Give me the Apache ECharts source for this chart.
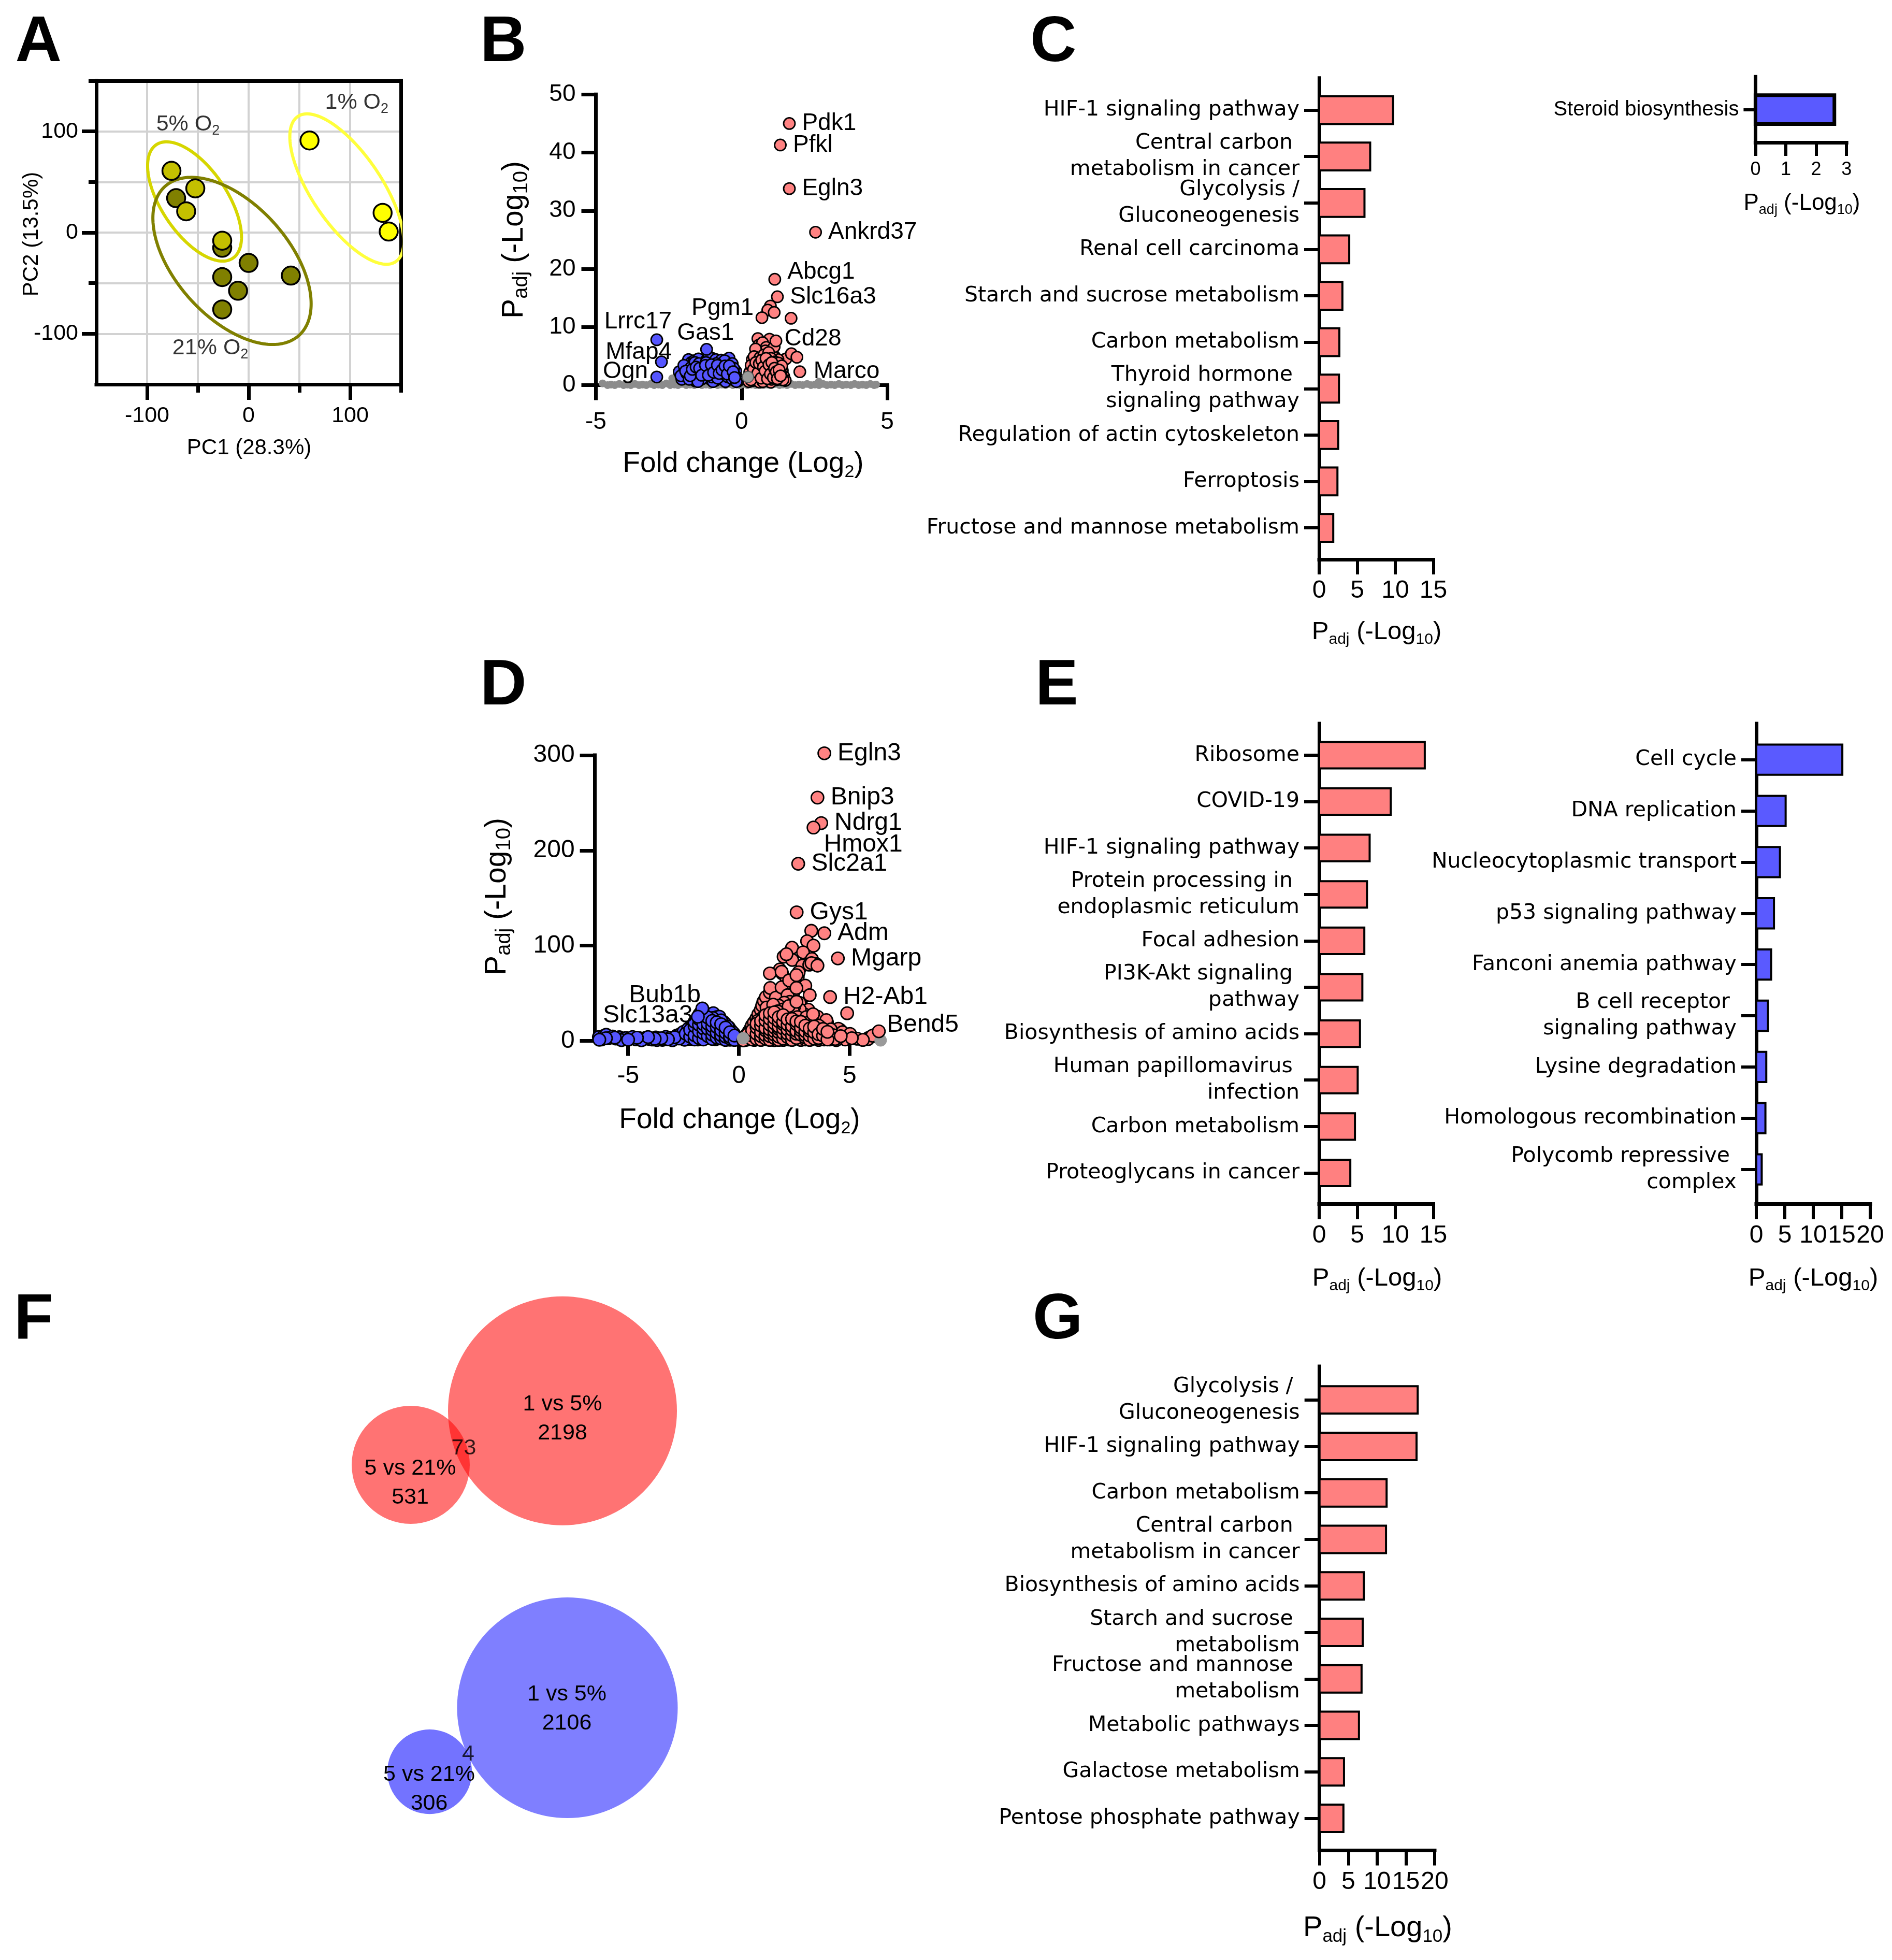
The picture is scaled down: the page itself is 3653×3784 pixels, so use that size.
<!DOCTYPE html>
<html><head><meta charset="utf-8">
<script src="https://cdn.jsdelivr.net/npm/echarts@6/dist/echarts.min.js"></script>
<style>html,body{margin:0;padding:0;background:#fff}#c{width:3653px;height:3784px}</style>
</head><body><div id="c"></div>
<script>
// ================= DATA =================
// Panel A - PCA scores
const pca1X = [60, 132, 138];
const pca1Y = [91, 19.5, 1];
const pca5X = [-76, -52.5, -61.5, -26];
const pca5Y = [61, 43.7, 21, -8];
const pca21X = [-71.4, -26, 0, -26, -10.4, 41.6, -26];
const pca21Y = [34, -15, -30, -44, -57.5, -42.5, -76];
const pcaGroupNames = ['1% O', '5% O', '21% O'];
const pcaGroupLabelPos = [[106.5, 128.6], [-59.7, 107.1], [-37.7, -114.2]];
// group ellipses: centre and conjugate semi-axes (data units)
const ellipse1 = {c: [96.7, 43], u: [56.1, -51.8], v: [0, 53.3]};
const ellipse5 = {c: [-53.25, 30.75], u: [46.25, -35.25], v: [0, 47.25]};
const ellipse21 = {c: [-16.35, -28], u: [77.95, -42.4], v: [0, 70.9]};

// Panel B - volcano 1% vs 5%
const bUpGenes = ['Pdk1', 'Pfkl', 'Egln3', 'Ankrd37', 'Abcg1', 'Slc16a3', 'Pgm1', 'Cd28', 'Marco'];
const bUpX = [1.64, 1.33, 1.64, 2.54, 1.14, 1.23, 0.70, 1.18, 2.0];
const bUpY = [45, 41.3, 33.8, 26.3, 18.2, 15.2, 11.6, 7.6, 2.3];
const bDownGenes = ['Lrrc17', 'Mfap4', 'Ogn', 'Gas1'];
const bDownX = [-2.91, -2.75, -2.91, -1.2];
const bDownY = [7.8, 4.0, 1.4, 6.15];
const bRed = [[0.99,13.6],[0.90,12.9],[1.12,12.5],[1.70,11.5],[0.56,8.0],[0.96,7.9],[0.60,6.9],[0.72,7.3],[0.85,6.5],[1.52,4.5],[1.71,5.4],[1.90,4.8],
 [0.3,1.5],[0.35,2.6],[0.37,4.4],[0.4,0.8],[0.42,3.5],[0.45,1.9],[0.5,5.2],[0.52,2.8],[0.55,1.1],[0.58,4.1],[0.62,2.2],[0.65,3.3],[0.68,5.6],[0.7,1.5],
 [0.74,4.6],[0.76,2.6],[0.78,0.8],[0.8,3.8],[0.82,5.9],[0.86,1.9],[0.88,3.0],[0.9,4.9],[0.92,2.3],[0.95,1.1],[0.98,3.9],[1.0,5.4],[1.02,2.7],[1.05,1.6],
 [1.08,4.3],[1.1,3.2],[1.12,5.0],[1.15,2.0],[1.18,0.9],[1.2,3.7],[1.22,2.6],[1.25,4.4],[1.28,1.6],[1.3,3.0],[1.33,2.2],[1.36,1.2],[1.4,2.5],[1.45,1.5],
 [1.5,0.8],[1.05,5.8],[0.48,6.2],[1.12,6.6],[0.25,0.6],[0.62,0.5],[1.0,0.5],[1.35,1.8],[1.3,3.6],
 [0.28,2.2],[0.33,3.4],[0.38,1.2],[0.43,4.9],[0.47,2.4],[0.53,3.6],[0.57,1.7],[0.63,4.7],[0.66,2.8],[0.71,3.9],[0.73,0.6],[0.77,5.2],[0.79,1.9],
 [0.83,3.3],[0.87,4.2],[0.91,1.5],[0.93,5.6],[0.97,2.6],[1.01,4.6],[1.03,1.0],[1.07,3.5],[1.11,2.3],[1.14,4.0],[1.17,1.4],[1.21,3.0],[1.24,2.1],
 [1.27,3.8],[1.32,1.0],[1.38,3.3],[1.42,0.9],
 [0.32,0.9],[0.41,2.7],[0.49,3.9],[0.56,2.1],[0.61,3.7],[0.67,1.2],[0.69,4.3],[0.75,3.1],[0.81,2.4],[0.84,4.6],[0.89,1.1],[0.94,3.5],[0.99,1.9],
 [1.04,3.9],[1.09,1.3],[1.13,2.9],[1.19,2.3],[1.23,1.1],[1.29,2.6],[1.34,1.6]];
const bBlue = [[-2.14,2.3],[-1.95,1.4],[-1.82,4.4],[-1.85,3.2],[-1.78,2.2],[-1.7,1.2],[-1.65,3.6],[-1.6,2.6],[-1.55,1.6],[-1.5,3.3],[-1.45,0.9],[-1.4,2.2],
 [-1.35,3.9],[-1.3,1.4],[-1.25,2.8],[-1.15,3.6],[-1.1,1.1],[-1.05,2.4],[-1.0,4.6],[-0.98,3.2],[-0.95,1.8],[-0.9,0.8],[-0.85,2.9],[-0.8,4.1],[-0.78,1.5],
 [-0.72,2.3],[-0.68,3.5],[-0.62,1.0],[-0.6,2.7],[-0.55,1.7],[-0.5,3.9],[-0.45,2.2],[-0.43,4.65],[-0.4,1.2],[-0.35,3.0],[-0.3,1.9],[-0.25,0.9],[-0.2,2.4],
 [-0.15,1.3],[-2.0,2.0],[-1.9,2.8],[-1.72,3.9],[-1.62,4.2],[-1.48,4.5],[-1.2,4.3],[-1.12,4.8],[-0.88,4.4],[-0.7,4.3],[-0.58,4.2],[-1.38,1.0],[-1.58,0.7],
 [-0.98,0.6],[-0.55,0.6],[-2.05,1.0],[-1.28,3.2],[-0.32,3.7],[-0.12,0.7],
 [-2.08,1.6],[-1.98,3.4],[-1.88,2.0],[-1.8,1.0],[-1.74,3.0],[-1.67,1.9],[-1.6,3.9],[-1.53,2.4],[-1.46,3.7],[-1.42,1.5],[-1.33,2.6],[-1.27,1.8],
 [-1.22,3.9],[-1.18,2.2],[-1.08,3.0],[-1.02,1.4],[-0.93,2.6],[-0.87,3.7],[-0.82,1.2],[-0.75,2.9],[-0.65,2.0],[-0.62,3.1],[-0.52,2.5],[-0.47,1.4],
 [-0.38,2.6],[-0.33,1.1],[-0.27,2.9],[-0.22,1.6],[-0.18,0.6],[-1.5,0.6],
 [-1.92,2.4],[-1.76,1.6],[-1.69,2.7],[-1.56,3.1],[-1.44,2.9],[-1.37,1.7],[-1.24,3.4],[-1.14,1.7],[-1.04,3.5],[-0.96,2.2],[-0.83,3.4],[-0.77,2.0],
 [-0.67,2.6],[-0.57,3.3],[-0.49,1.9],[-0.42,3.3],[-0.29,2.3],[-0.24,1.3]];
const bGray = [[-4.77,0.3],[-4.6,0],[-4.48,0.1],[-4.35,0],[-4.2,0.2],[-4.05,0],[-3.92,0.1],[-3.8,0],[-3.66,0.2],[-3.52,0],[-3.4,0.1],[-3.27,0],[-3.12,0.2],
 [-3.0,0],[-2.85,0.1],[-2.72,0],[-2.58,0.3],[-2.45,0],[-2.38,1.15],[-2.3,0.1],[-2.18,0],[-2.05,0.2],[-1.9,0],[-1.76,0.1],[-1.62,0],[-1.5,0.2],[-1.36,0],
 [-1.22,0.1],[-1.08,0],[-0.95,0.2],[-0.82,0],[-0.68,0.1],[-0.55,0],[-0.42,0.2],[-0.3,0],[-0.16,0.1],[-0.05,0],[0.08,0.2],[0.2,0],[0.34,0.1],[0.48,0],
 [0.6,0.2],[0.75,0],[0.88,0.1],[1.02,0],[1.15,0.2],[1.3,0],[1.42,0.1],[1.56,0],[1.7,0.2],[1.84,0],[1.97,0.1],[2.1,0],[2.25,0.2],[2.38,0],[2.52,0.1],
 [2.65,0.6],[2.66,0],[2.8,0.2],[2.93,0],[3.07,0.1],[3.2,0],[3.34,0.2],[3.47,0],[3.6,0.1],[3.75,0],[3.88,0.2],[4.02,0],[4.15,0.1],[4.28,0],[4.42,0.2],
 [4.55,0],[4.62,0.1]];
const bGrayMid = [[0.22, 1.4]];

// Panel D - volcano 5% vs 21%
const dUpGenes = ['Egln3', 'Bnip3', 'Ndrg1', 'Hmox1', 'Slc2a1', 'Gys1', 'Adm', 'Mgarp', 'H2-Ab1', 'Bend5'];
const dUpX = [3.86, 3.55, 3.72, 3.37, 2.68, 2.61, 3.86, 4.47, 4.12, 6.32];
const dUpY = [302, 255.5, 228.7, 224, 186, 135, 113, 86.6, 46, 10];
const dDownGenes = ['Bub1b', 'Slc13a3'];
const dDownX = [-1.65, -1.85];
const dDownY = [34, 25.4];
const dBlue = [[-6.32,4.0],[-6.1,5.2],[-5.99,6.4],[-5.85,3.1],[-5.7,4.5],[-5.55,2.4],[-5.4,3.8],[-5.25,1.8],[-5.1,3.0],[-4.95,2.2],[-4.8,4.0],[-4.65,1.6],
 [-4.5,2.9],[-4.35,1.2],[-4.2,3.3],[-4.05,2.0],[-3.9,1.4],[-3.75,3.6],[-3.6,2.5],[-3.45,1.1],[-3.3,4.2],[-3.1,3.3],[-2.95,1.8],[-2.8,5.6],[-2.63,7.3],
 [-6.2,1.5],[-5.3,0.8],[-4.4,0.6],[-3.7,0.9],[-3.0,0.7],
 [-2.5,9.5],[-2.4,3.5],[-2.29,12.7],[-2.2,6.5],[-2.1,16.5],[-2.03,18.1],[-2.0,10.2],[-1.95,4.0],[-1.9,22.0],[-1.8,14.5],[-1.75,7.8],[-1.7,30.5],
 [-1.6,20.3],[-1.55,11.5],[-1.5,27.0],[-1.45,3.2],[-1.42,27.2],[-1.38,16.8],[-1.3,23.5],[-1.25,9.0],[-1.2,28.6],[-1.15,29.0],[-1.1,19.8],[-1.05,13.2],
 [-1.0,25.0],[-0.95,5.8],[-0.9,21.5],[-0.88,25.4],[-0.82,16.0],[-0.75,10.5],[-0.7,20.0],[-0.62,18.1],[-0.58,12.8],[-0.5,6.4],[-0.45,14.2],[-0.35,10.9],
 [-0.3,4.8],[-0.22,7.5],[-0.15,2.5],[-0.08,3.6],[-1.68,16.0],[-1.35,6.5],[-0.65,2.0],[-2.15,2.0],[-1.85,1.5],[-1.05,1.8],[-0.4,1.2],
 [-2.35,6.0],[-2.25,2.0],[-2.15,10.0],[-2.05,13.5],[-1.95,17.0],[-1.9,8.0],[-1.8,19.5],[-1.78,28.0],[-1.72,12.0],[-1.65,24.0],[-1.58,5.5],[-1.52,15.5],
 [-1.48,22.0],[-1.4,10.0],[-1.35,20.5],[-1.28,14.0],[-1.22,4.0],[-1.18,24.0],[-1.12,8.5],[-1.08,17.0],[-0.98,11.0],[-0.92,15.5],[-0.85,7.5],[-0.8,21.5],
 [-0.72,13.5],[-0.68,4.5],[-0.55,9.5],[-0.5,15.0],[-0.42,7.0],[-0.28,9.0],[-0.2,4.0],[-0.12,1.5],[-2.45,1.2],[-2.7,2.5],[-2.9,3.8],[-3.2,1.6],[-3.5,2.8],
 [-3.8,2.2],[-4.1,4.0],[-4.6,3.3],[-5.0,1.2],[-5.6,3.4],[-6.0,2.8],[-6.3,1.2],
 [-2.4,7.5],[-2.2,4.5],[-2.2,11.5],[-2.0,1.5],[-2.0,6.0],[-2.0,15.5],[-2.0,20.0],[-1.8,3.0],[-1.8,10.0],[-1.8,17.0],[-1.8,23.0],[-1.6,1.5],[-1.6,8.0],
 [-1.6,13.0],[-1.6,17.5],[-1.6,28.5],[-1.4,5.0],[-1.4,12.5],[-1.4,18.0],[-1.4,24.5],[-1.2,2.0],[-1.2,6.5],[-1.2,11.5],[-1.2,15.5],[-1.2,21.0],
 [-1.0,3.5],[-1.0,8.5],[-1.0,14.5],[-1.0,19.5],[-0.8,2.5],[-0.8,6.0],[-0.8,11.0],[-0.8,17.5],[-0.6,1.0],[-0.6,4.5],[-0.6,8.5],[-0.6,14.0],
 [-0.4,2.5],[-0.4,4.5],[-0.4,9.0],[-0.2,1.0],[-0.2,5.5]];
const dRed = [[3.27,115.6],[3.08,104.7],[3.37,100],[2.40,97.8],[2.02,88.4],[2.90,93],[2.41,85],[3.30,86],[3.50,80.6],[2.87,79],[3.18,80],[1.95,71],
 [2.66,67],[2.70,72],[2.16,64],[2.3,45],[2.8,39],[1.1,40.6],[3.22,15.6],[4.57,11.6],[5.0,6.3],[5.85,3.1],[6.14,6.25],[3.98,19.4],[3.54,25],
 [2.15,91],[1.85,75],[2.5,62],[3.0,58],[3.2,48],[2.05,57],[2.45,50],[3.28,81.7],[3.55,79],
 [0.25,3.0],[0.35,6.5],[0.45,10.0],[0.55,14.0],[0.59,16.3],[0.68,19.5],[0.79,23.6],[0.88,28.0],[0.99,32.7],[1.05,37.0],[1.13,41.9],[1.22,46.0],
 [1.40,50.8],[1.42,55.5],[1.40,70.8],[1.67,45.4],[1.93,56.2],[1.93,72.6],[2.2,48],[2.27,63.5],[2.6,69],[2.6,55.5],[2.74,39.9],[3.14,32.7],
 [3.55,25.4],[3.95,21.8],[4.21,10.9],[4.49,12.7],[4.68,9.1],[5.02,7.3],[4.89,29],[5.83,1.8],[6.03,5.4],[5.35,2.2],[5.6,1.0],[4.3,4.0],[4.0,6.5],
 [3.8,9.0],[3.7,14.0],[3.4,18.0],[3.3,11.0],[3.0,22.0],[2.9,15.0],[2.95,28.0],[2.75,33.0],[2.5,36.0],[2.3,41.0],[2.05,40.0],[1.8,37.0],[1.6,33.0],
 [1.5,27.0],[1.3,30.0],[1.2,25.0],[1.1,20.0],[0.95,15.0],[0.85,10.0],[0.7,6.0],[0.55,4.0],[0.4,1.5],[0.7,1.0],[1.0,2.5],[1.0,7.0],[1.3,4.5],[1.3,12.0],
 [1.5,8.0],[1.5,17.0],[1.7,2.0],[1.7,12.5],[1.7,22.0],[1.9,6.0],[1.9,16.0],[1.9,27.0],[2.1,3.0],[2.1,10.0],[2.1,20.0],[2.1,30.0],[2.3,6.5],[2.3,14.5],
 [2.3,24.0],[2.5,2.0],[2.5,10.0],[2.5,19.0],[2.5,28.0],[2.7,5.0],[2.7,13.0],[2.7,22.0],[2.9,2.5],[2.9,8.5],[3.1,4.5],[3.1,12.5],[3.1,18.5],[3.3,2.0],
 [3.3,6.5],[3.5,4.0],[3.5,9.5],[3.7,2.0],[3.9,3.5],[4.1,1.5],[4.5,2.5],[4.8,1.5],[5.1,2.8],[1.1,10.5],[0.9,4.0],[1.2,16.5],[1.4,20.5],[1.6,0.8],
 [2.0,1.0],[2.8,1.0],[3.6,1.0],[4.4,0.8],
 [0.3,1.0],[0.45,3.0],[0.6,2.5],[0.65,9.0],[0.75,12.5],[0.8,4.5],[0.9,18.0],[0.95,8.0],[1.0,12.0],[1.05,24.0],[1.1,3.5],[1.15,14.0],[1.2,7.5],
 [1.25,19.0],[1.3,1.5],[1.35,9.5],[1.4,26.0],[1.45,14.5],[1.5,4.5],[1.55,21.0],[1.6,11.0],[1.65,28.5],[1.75,7.0],[1.8,17.5],[1.85,3.5],[1.95,11.5],
 [2.0,23.5],[2.0,33.0],[2.05,6.0],[2.15,15.0],[2.2,26.5],[2.25,1.5],[2.35,9.0],[2.4,19.5],[2.45,31.0],[2.55,5.0],[2.6,14.0],[2.65,25.0],[2.75,9.5],
 [2.8,17.5],[2.85,4.0],[2.95,12.0],[3.0,1.5],[3.05,25.0],[3.15,8.0],[3.2,15.0],[3.25,21.0],[3.35,3.5],[3.4,12.5],[3.45,7.0],[3.6,16.0],[3.65,5.5],
 [3.75,11.0],[3.85,1.5],[3.95,7.5],[4.05,3.0],[4.15,12.0],[4.25,6.0],[4.35,2.0],[4.6,5.0],[0.5,7.5],[0.85,21.0],[1.25,35.0],[1.55,38.0],[1.75,31.0],
 [2.25,36.5],[2.6,41.0],[3.35,28.0],
 [0.2,0.5],[0.4,4.0],[0.4,7.0],[0.6,1.5],[0.6,5.5],[0.6,11.0],[0.8,2.0],[0.8,7.5],[0.8,14.0],[0.8,18.0],[1.0,1.0],[1.0,5.0],[1.0,9.5],[1.0,16.0],
 [1.0,21.0],[1.2,2.5],[1.2,6.0],[1.2,11.0],[1.2,13.5],[1.2,21.5],[1.2,27.0],[1.4,1.0],[1.4,5.0],[1.4,8.5],[1.4,12.0],[1.4,17.0],[1.4,23.0],[1.4,29.0],
 [1.6,3.0],[1.6,6.5],[1.6,10.0],[1.6,14.0],[1.6,18.5],[1.6,24.0],[1.6,30.0],[1.8,1.0],[1.8,4.5],[1.8,9.0],[1.8,12.5],[1.8,15.0],[1.8,20.5],[1.8,25.0],
 [2.0,2.5],[2.0,8.0],[2.0,13.0],[2.0,17.5],[2.0,20.0],[2.0,27.0],[2.2,4.0],[2.2,7.5],[2.2,12.0],[2.2,17.0],[2.2,22.5],[2.4,1.0],[2.4,6.0],[2.4,11.5],
 [2.4,15.5],[2.4,23.0],[2.6,3.0],[2.6,7.5],[2.6,10.5],[2.6,17.5],[2.6,20.5],[2.8,6.5],[2.8,11.0],[2.8,14.0],[2.8,20.0],[3.0,3.5],[3.0,6.0],[3.0,10.0],
 [3.0,16.0],[3.2,1.0],[3.2,5.5],[3.2,10.5],[3.2,13.0],[3.4,2.5],[3.4,9.0],[3.4,15.0],[3.6,3.0],[3.6,7.0],[3.8,5.5],[3.8,12.5],[4.0,1.5],[4.0,9.5]];
const dGray = [[0.19, 2.7], [6.4, 0.5]];

// Panel C - KEGG 1 vs 5%
const cUpTerms = ['HIF-1 signaling pathway', 'Central carbon \nmetabolism in cancer', 'Glycolysis /\nGluconeogenesis', 'Renal cell carcinoma',
  'Starch and sucrose metabolism', 'Carbon metabolism', 'Thyroid hormone \nsignaling pathway', 'Regulation of actin cytoskeleton', 'Ferroptosis',
  'Fructose and mannose metabolism'];
const cUpVals = [9.7, 6.7, 5.95, 3.95, 3.05, 2.65, 2.6, 2.5, 2.4, 1.85];
const cDownTerms = ['Steroid biosynthesis'];
const cDownVals = [2.6];
// Panel E - KEGG 5 vs 21%
const eUpTerms = ['Ribosome', 'COVID-19', 'HIF-1 signaling pathway', 'Protein processing in \nendoplasmic reticulum', 'Focal adhesion',
  'PI3K-Akt signaling \npathway', 'Biosynthesis of amino acids', 'Human papillomavirus \ninfection', 'Carbon metabolism', 'Proteoglycans in cancer'];
const eUpVals = [13.87, 9.4, 6.63, 6.28, 5.93, 5.67, 5.36, 5.06, 4.7, 4.09];
const eDownTerms = ['Cell cycle', 'DNA replication', 'Nucleocytoplasmic transport', 'p53 signaling pathway', 'Fanconi anemia pathway',
  'B cell receptor \nsignaling pathway', 'Lysine degradation', 'Homologous recombination', 'Polycomb repressive \ncomplex'];
const eDownVals = [15.1, 5.15, 4.15, 3.1, 2.6, 2.05, 1.75, 1.6, 0.95];
// Panel G - KEGG shared
const gUpTerms = ['Glycolysis / \nGluconeogenesis', 'HIF-1 signaling pathway', 'Carbon metabolism', 'Central carbon \nmetabolism in cancer',
  'Biosynthesis of amino acids', 'Starch and sucrose \nmetabolism', 'Fructose and mannose \nmetabolism', 'Metabolic pathways',
  'Galactose metabolism', 'Pentose phosphate pathway'];
const gUpVals = [17.05, 16.85, 11.65, 11.55, 7.7, 7.5, 7.3, 6.85, 4.25, 4.15];

// Panel F - Venn counts
const vennNames = ['1 vs 5%', '5 vs 21%'];
const vennUpOnly = [2198, 531];
const vennUpShared = 73;
const vennDownOnly = [2106, 306];
const vennDownShared = 4;

// ================= LAYOUT / STYLE =================
const FAM = 'Liberation Sans';
const WIDE = 'DejaVu Sans';
const K = '#000';
const RED_BAR = '#FF8080', BLUE_BAR = '#5A5AFF';
const RED_PT = '#FF8282', BLUE_PT = '#5555FF';
const PT_BORDER = 2.8;
const vennLayout = {upBig: [1086, 2723.7], upSmall: [793, 2828], upMid: [895.4, 2796],
  downBig: [1095.5, 3297], downSmall: [829.5, 3420.5], downMid: [904, 3387], scale: 9.275};

const grids = [], xAxes = [], yAxes = [], series = [], graphics = [];
const OFF = {show: false};
function addGrid(l, t, w, h) { grids.push({left: l, top: t, width: w, height: h, show: false, containLabel: false, outerBoundsMode: 'none'}); return grids.length - 1; }
function vAxis(gi, min, max, o) {
  return Object.assign({gridIndex: gi, type: 'value', min: min, max: max, axisLine: {show: false, onZero: false}, axisTick: OFF, axisLabel: OFF,
    splitLine: OFF, splitArea: OFF, minorTick: OFF, minorSplitLine: OFF, axisPointer: {show: false}}, o);
}
function addX(o) { xAxes.push(o); return xAxes.length - 1; }
function addY(o) { yAxes.push(o); return yAxes.length - 1; }
function aLine(w) { return {show: true, onZero: false, lineStyle: {color: K, width: w, cap: 'square'}}; }
function aTick(len, w, custom) { const t = {show: true, inside: false, length: len, lineStyle: {color: K, width: w}}; if (custom) t.customValues = custom; return t; }
function aLabel(size, margin, extra) { return Object.assign({show: true, fontSize: size, margin: margin, color: K, fontFamily: FAM}, extra || {}); }
function richSet(F, sub) {
  const s = sub || 0.62;
  return {
    n: {fontSize: F, fontFamily: FAM, fill: K, color: K, lineHeight: Math.round(F * 1.2), verticalAlign: 'middle'},
    s: {fontSize: Math.round(F * s), fontFamily: FAM, fill: K, color: K, lineHeight: Math.round(F * (s + 0.04)), verticalAlign: 'bottom'}
  };
}
function gText(x, y, text, F, opt) {
  opt = opt || {};
  const el = {type: 'text', x: x, y: y, z: 100, rotation: opt.rot || 0,
    style: {text: text, fill: K, font: (opt.bold ? 'bold ' : '') + F + 'px "' + FAM + '"', fontSize: F, fontWeight: opt.bold ? 'bold' : 'normal', fontFamily: FAM,
      align: opt.align || 'center', textAlign: opt.align || 'center', verticalAlign: 'middle', textVerticalAlign: 'middle'}};
  if (opt.rich) el.style.rich = opt.rich;
  graphics.push(el);
}
const PADJ = '{n|P}{s|adj}{n| (-Log}{s|10}{n|)}';

// ---------- Panel A ----------
const gA = addGrid(186, 156, 588, 586);
const xA0 = addX(vAxis(gA, -150, 150, {interval: 50, z: 1, splitLine: {show: true, lineStyle: {color: '#d2d2d2', width: 4}}}));
const xA1 = addX(vAxis(gA, -150, 150, {interval: 50, position: 'bottom', z: 3, axisLine: aLine(7), axisTick: aTick(30, 7, [-100, 0, 100]),
  axisLabel: aLabel(43, 40, {customValues: [-100, 0, 100]})}));
const xA2 = addX(vAxis(gA, -150, 150, {interval: 50, position: 'bottom', z: 3, axisTick: aTick(16, 7, [-50, 50, 150])}));
const xA3 = addX(vAxis(gA, -150, 150, {interval: 50, position: 'top', z: 3, axisLine: aLine(7)}));
const yA0 = addY(vAxis(gA, -150, 150, {interval: 50, z: 1, splitLine: {show: true, lineStyle: {color: '#d2d2d2', width: 4}}}));
const yA1 = addY(vAxis(gA, -150, 150, {interval: 50, position: 'left', z: 3, axisLine: aLine(7), axisTick: aTick(28, 7, [-100, 0, 100]),
  axisLabel: aLabel(43, 35, {customValues: [-100, 0, 100]})}));
const yA2 = addY(vAxis(gA, -150, 150, {interval: 50, position: 'left', z: 3, axisTick: aTick(15, 7, [-50, 50, 150])}));
const yA3 = addY(vAxis(gA, -150, 150, {interval: 50, position: 'right', z: 3, axisLine: aLine(7)}));

function ellipsePoints(e) {
  const pts = [];
  for (let k = 0; k <= 200; k++) {
    const t = 2 * Math.PI * k / 200;
    pts.push([e.c[0] + Math.cos(t) * e.u[0] + Math.sin(t) * e.v[0], e.c[1] + Math.cos(t) * e.u[1] + Math.sin(t) * e.v[1]]);
  }
  return pts;
}
function ellSeries(e, color) {
  return {type: 'line', xAxisIndex: xA0, yAxisIndex: yA0, data: ellipsePoints(e), showSymbol: false, symbol: 'none', smooth: false, clip: false, z: 4,
    lineStyle: {color: color, width: 6}, emphasis: {disabled: true}, silent: true};
}
series.push(ellSeries(ellipse5, '#D6D600'));
series.push(ellSeries(ellipse21, '#808000'));
series.push(ellSeries(ellipse1, '#FFFF3C'));
function zipXY(xs, ys) { return xs.map((x, i) => [x, ys[i]]); }
function scat(xi, yi, data, color, size, bw, z, bc) {
  return {type: 'scatter', xAxisIndex: xi, yAxisIndex: yi, data: data, symbol: 'circle', symbolSize: size, clip: false, z: z || 2,
    itemStyle: {color: color, borderColor: bc || K, borderWidth: bw, opacity: 1}, emphasis: {disabled: true}, label: {show: false}, silent: true};
}
series.push(scat(xA0, yA0, zipXY(pca21X, pca21Y), '#808000', 35, 3.5, 5));
series.push(scat(xA0, yA0, zipXY(pca5X, pca5Y), '#C4C000', 35, 3.5, 5));
series.push(scat(xA0, yA0, zipXY(pca1X, pca1Y), '#FFFF00', 35, 3.5, 5));
series.push({type: 'scatter', xAxisIndex: xA0, yAxisIndex: yA0, symbolSize: 0, z: 6, silent: true, clip: false,
  data: pcaGroupNames.map((n, i) => ({value: pcaGroupLabelPos[i], label: {show: true, position: 'inside', formatter: '{n|' + n + '}{s|2}', rich: richSet(43)}})),
  label: {show: true}});

// ---------- Panel B ----------
const gB = addGrid(1150.5, 182.3, 562.5, 561.2);
const xB = addX(vAxis(gB, -5, 5, {interval: 5, axisLine: aLine(7), axisTick: aTick(29, 7), axisLabel: aLabel(46, 49)}));
const yB = addY(vAxis(gB, 0, 50, {interval: 10, axisLine: aLine(7), axisTick: aTick(28, 7), axisLabel: aLabel(46, 39)}));
const bLabelLayout = {
  Pdk1: {}, Pfkl: {}, Egln3: {}, Ankrd37: {}, Slc16a3: {}, Marco: {dist: 14},
  Abcg1: {off: [0, -14]}, Cd28: {dist: 4, off: [0, -4]},
  Pgm1: {pos: 'inside', align: 'right', off: [-16, -18]},
  Lrrc17: {pos: 'inside', align: 'right', off: [29, -35]},
  Mfap4: {pos: 'inside', align: 'right', off: [20, -18]},
  Ogn: {pos: 'inside', align: 'right', off: [-17, -10]},
  Gas1: {pos: 'inside', align: 'right', off: [53, -31]}
};
function geneItems(genes, xs, ys, layout, F) {
  return genes.map((g, i) => {
    const L = layout[g] || {};
    const label = {show: true, formatter: g, fontSize: F, fontFamily: FAM, color: K, position: L.pos || 'right',
      distance: L.dist != null ? L.dist : 12, verticalAlign: 'middle'};
    if (L.align) label.align = L.align;
    if (L.off) label.offset = L.off;
    return {name: g, value: [xs[i], ys[i]], label: label};
  });
}
series.push(scat(xB, yB, bGray, '#8C8C8C', 15, 0, 2));
series.push(scat(xB, yB, bBlue, BLUE_PT, 22, PT_BORDER, 3));
series.push(scat(xB, yB, bRed, RED_PT, 22, PT_BORDER, 3));
series.push(scat(xB, yB, bGrayMid, '#9A9A9A', 22, 2, 3, '#555'));
series.push(scat(xB, yB, geneItems(bDownGenes, bDownX, bDownY, bLabelLayout, 46), BLUE_PT, 22, PT_BORDER, 4));
series.push(scat(xB, yB, geneItems(bUpGenes, bUpX, bUpY, bLabelLayout, 46), RED_PT, 22, PT_BORDER, 4));

// ---------- Panel D ----------
const gD = addGrid(1148.6, 1458, 555.9, 551.5);
const xD = addX(vAxis(gD, -6.5, 6.5, {axisLine: aLine(7), axisTick: aTick(29, 7, [-5, 0, 5]), axisLabel: aLabel(48, 44, {customValues: [-5, 0, 5]})}));
const yD = addY(vAxis(gD, 0, 300, {interval: 100, axisLine: aLine(7), axisTick: aTick(29, 7), axisLabel: aLabel(48, 39)}));
const dLabelLayout = {
  Hmox1: {pos: 'inside', align: 'left', off: [20, 33]},
  Bend5: {dist: 2, off: [0, -12]},
  Bub1b: {pos: 'inside', align: 'right', off: [-3, -25]},
  Slc13a3: {pos: 'inside', align: 'right', off: [-10, -2]}
};
series.push(scat(xD, yD, dBlue, BLUE_PT, 24, PT_BORDER, 3));
series.push(scat(xD, yD, dRed, RED_PT, 24, PT_BORDER, 3));
series.push(scat(xD, yD, dGray, '#9A9A9A', 24, 0, 3));
series.push(scat(xD, yD, geneItems(dDownGenes, dDownX, dDownY, dLabelLayout, 48), BLUE_PT, 24, PT_BORDER, 4));
series.push(scat(xD, yD, geneItems(dUpGenes, dUpX, dUpY, dLabelLayout, 48), RED_PT, 24, PT_BORDER, 4));

// ---------- Bar panels ----------
function barPanel(box, xmax, xint, terms, vals, color, yr, frac, opts) {
  opts = opts || {};
  const gi = addGrid(box[0], box[1], box[2], box[3]);
  const idx = terms.map((t, i) => i);
  const xi = addX(vAxis(gi, 0, xmax, {interval: xint, axisLine: aLine(7), axisTick: aTick(opts.xTickLen || 29, 6),
    axisLabel: aLabel(opts.xFont || 48, opts.xMargin || 37)}));
  const yi = addY(vAxis(gi, yr[0], yr[1], {inverse: true, axisLine: aLine(7), axisTick: aTick(opts.yTickLen || 29, 6, idx),
    axisLabel: aLabel(opts.yFont || 41, opts.yMargin || 38, {customValues: idx, fontFamily: opts.yFam || WIDE, lineHeight: 51,
      formatter: v => terms[Math.round(v)]})}));
  const lw = opts.lw || 4;
  series.push({type: 'custom', coordinateSystem: 'cartesian2d', xAxisIndex: xi, yAxisIndex: yi, z: 3, silent: true,
    data: vals.map((v, i) => [v, i]), encode: {x: 0, y: 1},
    renderItem: function (params, api) {
      const v = api.value(0), i = api.value(1);
      const p0 = api.coord([0, i]), p1 = api.coord([v, i]);
      const h = api.size([0, frac])[1];
      return {type: 'rect', shape: {x: p0[0], y: p0[1] - h / 2, width: p1[0] - p0[0], height: h},
        style: {fill: color, stroke: K, lineWidth: lw}};
    }});
}
barPanel([2547, 150.8, 220.5, 929.2], 15, 5, cUpTerms, cUpVals, RED_BAR, [-0.69, 9.68], 0.6);
barPanel([3389.4, 148.3, 175.8, 126.7], 3, 1, cDownTerms, cDownVals, BLUE_BAR, [-0.5, 0.5], 0.44,
  {lw: 7, xFont: 36, xMargin: 35, xTickLen: 26, yTickLen: 23, yFont: 40, yMargin: 32, yFam: FAM});
barPanel([2547, 1397, 220.5, 927.5], 15, 5, eUpTerms, eUpVals, RED_BAR, [-0.68, 9.67], 0.57);
barPanel([3391, 1397, 220, 927.5], 20, 5, eDownTerms, eDownVals, BLUE_BAR, [-0.705, 8.677], 0.59);
barPanel([2547.7, 2638, 222.3, 934.5], 20, 5, gUpTerms, gUpVals, RED_BAR, [-0.72, 9.69], 0.59);

// ---------- Panel F (Venn) ----------
const gF = addGrid(600, 2480, 800, 1100);
const xF = addX(vAxis(gF, 600, 1400, {show: false}));
const yF = addY(vAxis(gF, 2480, 3580, {show: false, inverse: true}));
function vennItem(pos, count, shared, name, color, off) {
  return {value: pos, symbolSize: vennLayout.scale * Math.sqrt(count + shared), itemStyle: {color: color, opacity: 1, borderWidth: 0},
    label: {show: true, position: 'inside', formatter: name + '\n' + count, offset: off, fontSize: 43, lineHeight: 56, fontFamily: FAM, color: K}};
}
series.push({type: 'scatter', xAxisIndex: xF, yAxisIndex: yF, symbol: 'circle', z: 2, silent: true, clip: false,
  itemStyle: {borderWidth: 0, opacity: 1}, label: {show: true},
  data: [
    vennItem(vennLayout.upBig, vennUpOnly[0], vennUpShared, vennNames[0], 'rgba(255,0,0,0.55)', [0, 15]),
    vennItem(vennLayout.upSmall, vennUpOnly[1], vennUpShared, vennNames[1], 'rgba(255,0,0,0.55)', [-1, 35]),
    vennItem(vennLayout.downBig, vennDownOnly[0], vennDownShared, vennNames[0], 'rgba(0,0,255,0.5)', [-1, 2]),
    vennItem(vennLayout.downSmall, vennDownOnly[1], vennDownShared, vennNames[1], 'rgba(0,0,255,0.55)', [-1, 34])
  ]});
series.push({type: 'scatter', xAxisIndex: xF, yAxisIndex: yF, symbolSize: 0, z: 3, silent: true, clip: false,
  label: {show: true, position: 'inside', fontSize: 43, fontFamily: FAM, color: K},
  data: [{value: vennLayout.upMid, label: {formatter: String(vennUpShared)}}, {value: vennLayout.downMid, label: {formatter: String(vennDownShared)}}]});

// ---------- Texts ----------
const letters = [['A', 29.5, 84], ['B', 927, 84], ['C', 1989, 84], ['D', 927, 1326], ['E', 1999, 1326], ['F', 27, 2550], ['G', 1994, 2550]];
letters.forEach(l => gText(l[1], l[2], l[0], 124, {bold: true, align: 'left'}));
gText(481, 865, 'PC1 (28.3%)', 42);
gText(61, 452, 'PC2 (13.5%)', 42, {rot: Math.PI / 2});
const FC = '{n|Fold change (Log}{s|2}{n|)}';
gText(1435, 896, FC, 55, {rich: richSet(55)});
gText(993, 463, PADJ, 57, {rich: richSet(57, 0.7), rot: Math.PI / 2});
gText(1428, 2163, FC, 55, {rich: richSet(55)});
gText(960, 1731, PADJ, 57, {rich: richSet(57, 0.7), rot: Math.PI / 2});
gText(2658, 1220, PADJ, 49, {rich: richSet(49)});
gText(3479, 393, PADJ, 44, {rich: richSet(44)});
gText(2659, 2468, PADJ, 49, {rich: richSet(49)});
gText(3501, 2468, PADJ, 49, {rich: richSet(49)});
gText(2660, 3723, PADJ, 56, {rich: richSet(56)});

const chart = echarts.init(document.getElementById('c'), null, {renderer: 'canvas', width: 3653, height: 3784, devicePixelRatio: 1});
chart.setOption({
  backgroundColor: '#fff', animation: false,
  textStyle: {fontFamily: FAM, color: K},
  grid: grids, xAxis: xAxes, yAxis: yAxes, series: series, graphic: {elements: graphics}
});
</script></body></html>
